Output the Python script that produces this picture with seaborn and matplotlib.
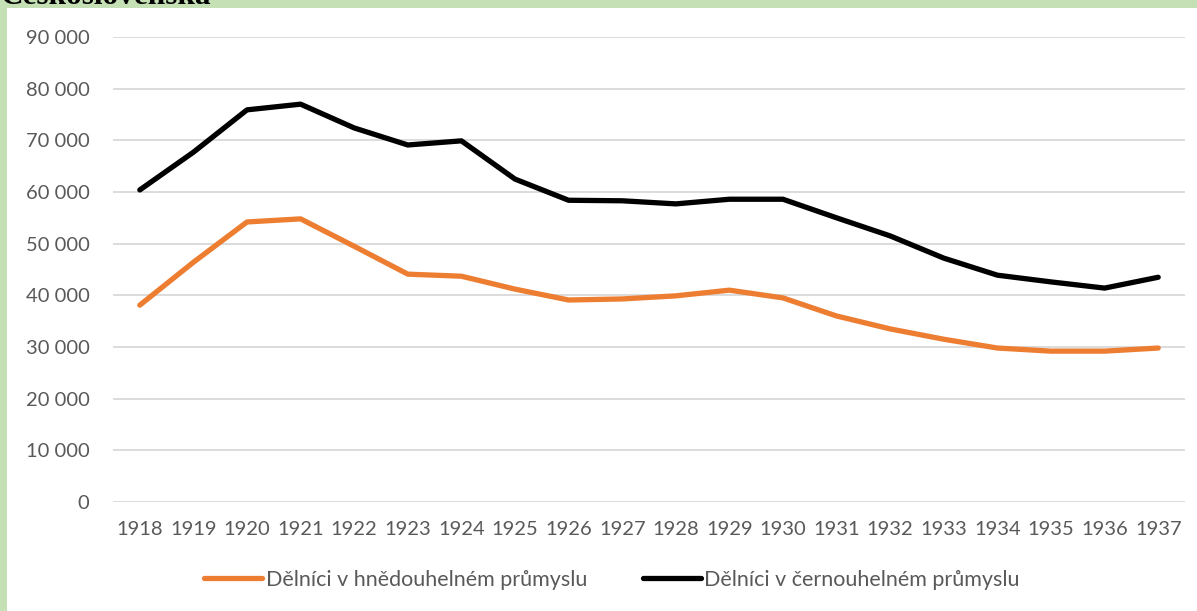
import pandas as pd
import matplotlib.pyplot as plt
import seaborn as sns
from matplotlib.patches import Rectangle

years = list(range(1918, 1938))
brown_coal = [38100, 46400, 54200, 54800, 49500, 44100, 43700, 41200, 39100, 39300,
              39900, 41000, 39500, 36000, 33500, 31500, 29800, 29200, 29200, 29800]
black_coal = [60400, 67700, 75900, 77000, 72400, 69100, 69900, 62500, 58400, 58300,
              57700, 58600, 58600, 55000, 51500, 47200, 43900, 42600, 41400, 43500]
series_names = ["Dělníci v hnědouhelném průmyslu", "Dělníci v černouhelném průmyslu"]
yticks = list(range(0, 90001, 10000))

df = pd.DataFrame({
    "rok": years * 2,
    "pocet": brown_coal + black_coal,
    "serie": [series_names[0]] * len(years) + [series_names[1]] * len(years),
})

sns.set_theme(style="white")
plt.rcParams["font.family"] = ["Lato", "DejaVu Sans"]

fig = plt.figure(figsize=(11.97, 6.11), dpi=100)
# green frame (top and left edge) as in the source slide
fig.patches.append(Rectangle((0, 0), 1, 1, transform=fig.transFigure,
                             facecolor="#c5e0b4", edgecolor="none", zorder=-2))
fig.patches.append(Rectangle((7 / 1197, 0), 1, 1 - 8 / 611, transform=fig.transFigure,
                             facecolor="white", edgecolor="none", zorder=-1))
# heading of the slide, cut off by the crop
fig.text(0.0, 1.0 + 3 / 611, "Československá", family="Liberation Serif", fontsize=22.5,
         fontweight="bold", color="black", va="center", ha="left")

ax = fig.add_axes([113 / 1197, 1 - 502 / 611, 1072 / 1197, 465 / 611])
ax.set_facecolor("none")

sns.lineplot(data=df, x="rok", y="pocet", hue="serie",
             palette=["#ed7d31", "black"], linewidth=3.8, ax=ax, legend=False)

ax.set_xlim(1917.5, 1937.5)
ax.set_ylim(0, 90000)
ax.set_xticks(years)
ax.set_xticklabels([str(y) for y in years])
ax.set_yticks(yticks)
ax.set_yticklabels([f"{v:,}".replace(",", " ") for v in yticks])
ax.yaxis.grid(True, color="#d9d9d9", linewidth=1.3)
ax.tick_params(axis="both", length=0, labelsize=14.5, labelcolor="#595959")
ax.tick_params(axis="y", pad=17)
ax.tick_params(axis="x", pad=14)
ax.set_xlabel("")
ax.set_ylabel("")
for s in ax.spines.values():
    s.set_visible(False)

handles = [plt.Line2D([], [], color="#ed7d31", linewidth=3.8),
           plt.Line2D([], [], color="black", linewidth=3.8)]
fig.legend(handles, series_names, loc="center", bbox_to_anchor=(612 / 1197, 1 - 580 / 611),
           ncol=2, frameon=False, fontsize=15.5, labelcolor="#595959",
           handlelength=2.7, handletextpad=0.15, columnspacing=2.6)

fig.savefig("out.png", dpi=100)
